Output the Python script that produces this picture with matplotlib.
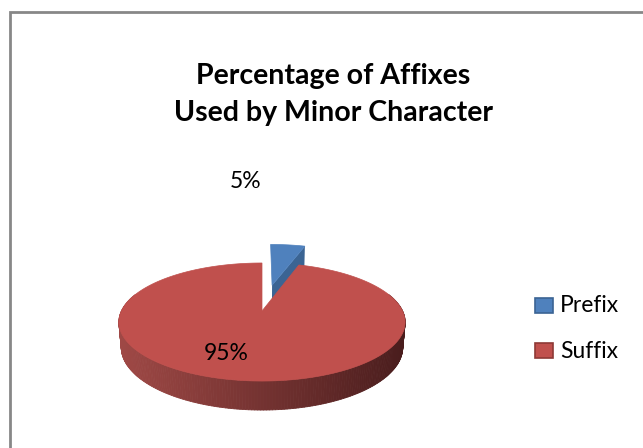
import numpy as np
import matplotlib.pyplot as plt
from matplotlib.collections import PolyCollection
from matplotlib.patches import Polygon, Rectangle
from matplotlib.colors import to_rgb

labels = ['Prefix', 'Suffix']
values = [5, 95]
pct_text = ['5%', '95%']
title = 'Percentage of Affixes\nUsed by Minor Character'

CL = {
    'top': ['#4F81BD', '#C0504D'],
    'cut': ['#3B6493', '#8E3936'],
    'side_l': ['#5A86BA', '#A04946'],
    'side_r': ['#253F60', '#4A1D1D'],
}
explode = [0.5, 0.0]

# 3d view: tilt, camera distance, focal length, centre in pixels
s, c = np.sin(np.radians(23.9)), np.cos(np.radians(23.9))
D, F = 4.9, 689.0
cx, cy = 262.0, 311.0
H = 0.196


def proj(X, Y, Z):
    X, Y, Z = np.asarray(X, float), np.asarray(Y, float), np.asarray(Z, float)
    v = Y * s + Z * c
    w = Y * c - Z * s
    return np.column_stack([cx + F * X / (D + w), cy - F * v / (D + w)])


fig = plt.figure(figsize=(6.43, 4.48), dpi=100)
ax = fig.add_axes([0, 0, 1, 1])
ax.set_xlim(0, 643)
ax.set_ylim(448, 0)
ax.axis('off')

# chart frame
ax.plot([9.5, 9.5, 643], [448, 12.5, 12.5], color='#878787', lw=2, solid_joinstyle='miter')

total = float(sum(values))
cum = np.concatenate([[0], np.cumsum(values)]) / total * 2 * np.pi
order = [0, 1]  # back slice first
for i in order:
    a0, a1 = cum[i], cum[i + 1]
    mid = (a0 + a1) / 2
    ox, oy = explode[i] * np.sin(mid), explode[i] * np.cos(mid)
    phi = np.linspace(a0, a1, max(3, int(np.degrees(a1 - a0))))
    rx, ry = np.sin(phi) + ox, np.cos(phi) + oy
    # outer side wall with gradient
    top = proj(rx, ry, np.zeros_like(rx))
    bot = proj(rx, ry, -H * np.ones_like(rx))
    quads, cols = [], []
    cl, cr = np.array(to_rgb(CL['side_l'][i])), np.array(to_rgb(CL['side_r'][i]))
    for k in range(len(phi) - 1):
        if np.cos((phi[k] + phi[k + 1]) / 2) > 0.3:
            continue
        q = [top[k], top[k + 1], bot[k + 1], bot[k]]
        t = np.clip((np.mean([p[0] for p in q]) - 117) / (402 - 117), 0, 1)
        quads.append(q)
        cols.append(cl * (1 - t) + cr * t)
    ax.add_collection(PolyCollection(quads, facecolors=cols, edgecolors=cols, lw=0.6, zorder=2 + i))
    # cut face at the end angle, seen from the front right
    if explode[i] > 0:
        e = np.array([ox, ox + np.sin(a1), ox + np.sin(a1), ox])
        f = np.array([oy, oy + np.cos(a1), oy + np.cos(a1), oy])
        g = np.array([0, 0, -H, -H])
        ax.add_patch(Polygon(proj(e, f, g), closed=True, fc=CL['cut'][i], ec='none', zorder=2 + i))
    # top face
    face = np.vstack([proj([ox], [oy], [0]), top])
    ax.add_patch(Polygon(face, closed=True, fc=CL['top'][i], ec=CL['top'][i], lw=0.5, zorder=2.5 + i))

font = ['Lato', 'DejaVu Sans']
ax.text(333, 94.5, title, ha='center', va='center', fontsize=20.5, fontweight='bold',
        family=font, linespacing=1.5)
ax.text(246, 181, pct_text[0], ha='center', va='center', fontsize=16.5, family=font)
ax.text(226, 354, pct_text[1], ha='center', va='center', fontsize=16.5, family=font, zorder=6)

# legend
for j, lab in enumerate(labels):
    y0 = 298 + j * 45
    ax.add_patch(Rectangle((535, y0), 18, 15, fc=CL['top'][j], ec=CL['cut'][j], lw=1.2))
    ax.text(560, y0 + 8, lab, ha='left', va='center', fontsize=16.5, family=font)

fig.savefig('out.png', dpi=100)
